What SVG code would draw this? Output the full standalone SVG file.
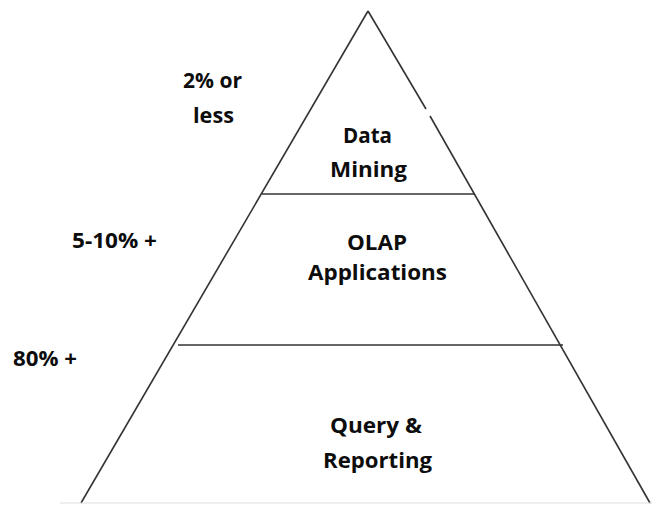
<svg xmlns="http://www.w3.org/2000/svg" width="652" height="506" viewBox="0 0 652 506">
<style>
.ln{stroke:#333;stroke-width:1.6;fill:none}
.t{font-family:"Open Sans","Liberation Sans",sans-serif;font-weight:bold;font-size:21px;fill:#0d0d0d}
.c{text-anchor:middle}
</style>
<rect width="652" height="506" fill="#fff"/>
<g id="connectors">
<line class="ln" x1="368" y1="11" x2="81" y2="503"/>
<line class="ln" x1="368" y1="11" x2="426" y2="109"/>
<line class="ln" x1="430" y1="116" x2="650" y2="503"/>
<line class="ln" x1="262" y1="194" x2="475" y2="194"/>
<line class="ln" x1="178" y1="345" x2="563" y2="345"/>
<line x1="60" y1="503" x2="652" y2="503" stroke="#ddd" stroke-width="1"/>
</g>
<g id="data-mining">
<text class="t c" x="367.5" y="143" textLength="49" lengthAdjust="spacingAndGlyphs">Data</text>
<text class="t c" x="368.5" y="177" textLength="77" lengthAdjust="spacingAndGlyphs">Mining</text>
</g>
<g id="olap">
<text class="t c" x="377" y="250" textLength="60" lengthAdjust="spacingAndGlyphs">OLAP</text>
<text class="t c" x="377.5" y="280" textLength="139" lengthAdjust="spacingAndGlyphs">Applications</text>
</g>
<g id="query">
<text class="t c" x="376" y="433" textLength="92" lengthAdjust="spacingAndGlyphs">Query &amp;</text>
<text class="t c" x="377.5" y="468" textLength="109" lengthAdjust="spacingAndGlyphs">Reporting</text>
</g>
<g id="label-2">
<text class="t" x="183" y="88" textLength="59" lengthAdjust="spacingAndGlyphs">2% or</text>
<text class="t" x="193" y="123" textLength="41" lengthAdjust="spacingAndGlyphs">less</text>
</g>
<g id="label-5">
<text class="t" x="72" y="248" textLength="85" lengthAdjust="spacingAndGlyphs">5-10% +</text>
</g>
<g id="label-80">
<text class="t" x="13" y="366" textLength="64" lengthAdjust="spacingAndGlyphs">80% +</text>
</g>
</svg>
